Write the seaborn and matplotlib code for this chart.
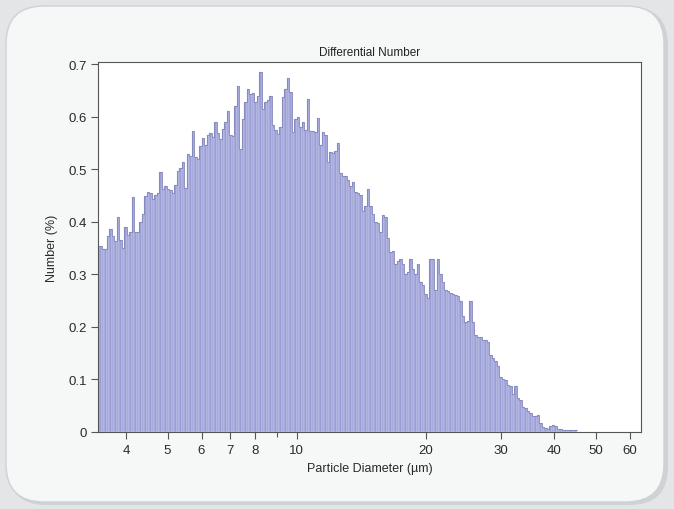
import numpy as np
import pandas as pd
import matplotlib
matplotlib.use("Agg")
import matplotlib.pyplot as plt
from matplotlib.patches import FancyBboxPatch
from matplotlib.ticker import FixedLocator, NullFormatter
import seaborn as sns

# Channel range of the size analyser (µm), log-spaced channels
size_lo, size_hi = 3.459, 45.07

# Differential number distribution per channel (%)
number_pct = [
    0.354, 0.348, 0.348, 0.373, 0.386, 0.373, 0.363, 0.41, 0.365, 0.35,
    0.39, 0.375, 0.38, 0.447, 0.38, 0.38, 0.40, 0.415, 0.449, 0.456,
    0.454, 0.443, 0.45, 0.454, 0.494, 0.462, 0.468, 0.462, 0.46, 0.455,
    0.47, 0.496, 0.503, 0.513, 0.465, 0.528, 0.525, 0.572, 0.523, 0.52,
    0.544, 0.56, 0.547, 0.566, 0.568, 0.561, 0.59, 0.568, 0.557, 0.576,
    0.59, 0.61, 0.566, 0.563, 0.62, 0.658, 0.538, 0.595, 0.627, 0.652,
    0.643, 0.645, 0.627, 0.64, 0.684, 0.614, 0.627, 0.632,
    0.64, 0.585, 0.575, 0.567, 0.58, 0.637, 0.652, 0.673, 0.646, 0.57,
    0.595, 0.60, 0.58, 0.59, 0.575, 0.633, 0.572, 0.572, 0.57, 0.598,
    0.547, 0.57, 0.565, 0.513, 0.532, 0.53, 0.535, 0.55, 0.492, 0.488,
    0.487, 0.48, 0.468, 0.475, 0.456, 0.455, 0.45, 0.42, 0.43, 0.462,
    0.43, 0.414, 0.40, 0.397, 0.38, 0.413, 0.41, 0.37, 0.342,
    0.345, 0.32, 0.325, 0.33, 0.32, 0.30, 0.305, 0.33, 0.31, 0.30,
    0.32, 0.285, 0.28, 0.262, 0.255, 0.33,
    0.33, 0.27, 0.33, 0.30, 0.285, 0.27, 0.268, 0.265, 0.262, 0.26,
    0.258, 0.25, 0.22, 0.21, 0.212, 0.25, 0.21, 0.185, 0.18, 0.18,
    0.175, 0.175, 0.172, 0.147, 0.14, 0.135, 0.125, 0.104, 0.10, 0.098,
    0.09, 0.088, 0.072, 0.088, 0.065, 0.06, 0.047, 0.045, 0.04, 0.037,
    0.03, 0.03, 0.032, 0.018, 0.01, 0.008, 0.006, 0.012, 0.014, 0.012,
    0.006, 0.005, 0.004, 0.004, 0.003, 0.003, 0.003, 0.003,
]

x_major = [4, 5, 6, 7, 8, 10, 20, 30, 40, 50, 60]
x_minor = [9]
y_ticks = [0, 0.1, 0.2, 0.3, 0.4, 0.5, 0.6, 0.7]
y_labels = ["0", "0.1", "0.2", "0.3", "0.4", "0.5", "0.6", "0.7"]

# Channel centres (geometric) for the log-spaced channels
n_ch = len(number_pct)
log_edges = np.linspace(np.log10(size_lo), np.log10(size_hi), n_ch + 1)
centres = 10 ** ((log_edges[:-1] + log_edges[1:]) / 2)
df = pd.DataFrame({"diameter": centres, "number": number_pct})

sns.set_theme(style="white")
plt.rcParams["font.family"] = ["Liberation Sans", "DejaVu Sans"]

fig = plt.figure(figsize=(6.74, 5.10), dpi=100)
fig.patch.set_facecolor("#e3e5e7")

# Rounded panel behind the chart, with a soft shadow
shadow = FancyBboxPatch((0.08, 0.04), 6.60, 4.98,
                        boxstyle="round,pad=0,rounding_size=0.38",
                        transform=fig.dpi_scale_trans, facecolor="#c4c7cb",
                        edgecolor="none", alpha=0.6, zorder=-2)
panel = FancyBboxPatch((0.06, 0.07), 6.58, 4.96,
                       boxstyle="round,pad=0,rounding_size=0.38",
                       transform=fig.dpi_scale_trans, facecolor="#f6f7f7",
                       edgecolor="#cfd2d5", linewidth=1.0, zorder=-1)
fig.patches.extend([shadow, panel])

ax = fig.add_axes([0.1459, 0.1510, 0.8052, 0.7255])
ax.set_zorder(1)
ax.set_facecolor("white")

binrange = (log_edges[0], log_edges[-1])
sns.histplot(data=df, x="diameter", weights="number", bins=n_ch,
             binrange=binrange, log_scale=True, element="bars",
             color="#9a9ed5", alpha=1.0, edgecolor="#dcdef2",
             linewidth=0.3, ax=ax)
sns.histplot(data=df, x="diameter", weights="number", bins=n_ch,
             binrange=binrange, log_scale=True, element="step",
             fill=False, color="#8084b9", linewidth=0.6, ax=ax)

ax.set_xlim(3.446, 63.7)
ax.set_ylim(0, 0.704)
ax.xaxis.set_major_locator(FixedLocator(x_major))
ax.xaxis.set_minor_locator(FixedLocator(x_minor))
ax.set_xticklabels([str(v) for v in x_major])
ax.xaxis.set_minor_formatter(NullFormatter())
ax.set_yticks(y_ticks)
ax.set_yticklabels(y_labels)

ax.tick_params(axis="both", which="both", direction="out", length=5,
               width=0.8, color="#555555", labelsize=9.5,
               labelcolor="#2a2a2a", bottom=True, left=True)
ax.tick_params(axis="x", which="major", pad=4)
ax.tick_params(axis="y", which="major", pad=3)
ax.tick_params(axis="x", which="minor", length=3.5)

for s in ax.spines.values():
    s.set_color("#555555")
    s.set_linewidth(0.8)

ax.set_title("Differential Number", fontsize=8.5, color="#222222", pad=5)
ax.set_xlabel("Particle Diameter (µm)", fontsize=9, color="#2a2a2a",
              labelpad=4)
ax.set_ylabel("Number (%)", fontsize=9, color="#2a2a2a", labelpad=8)

fig.savefig("out.png", dpi=100, facecolor=fig.get_facecolor())
